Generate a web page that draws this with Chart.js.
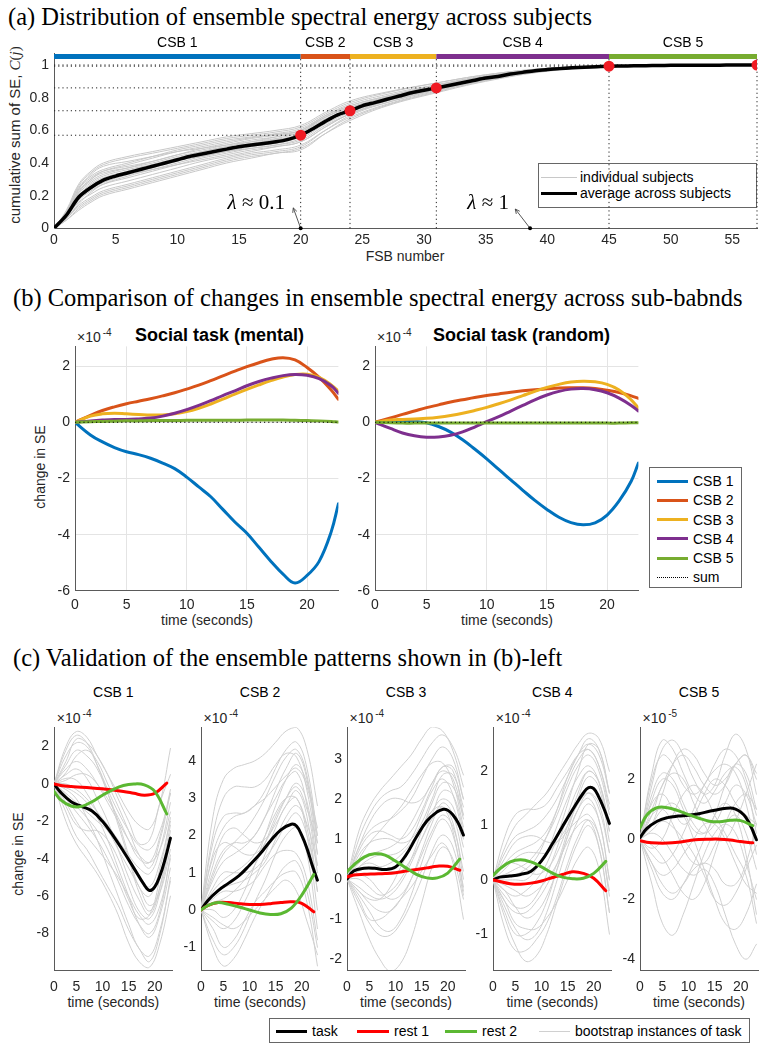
<!DOCTYPE html>
<html><head><meta charset="utf-8">
<script src="https://cdn.jsdelivr.net/npm/chart.js@4.4.1/dist/chart.umd.min.js"></script>
<style>
body{margin:0;width:768px;height:1050px;background:#fff;position:relative;overflow:hidden;font-family:"Liberation Sans",Arial,Helvetica,sans-serif;color:#262626}
canvas{position:absolute}
.t{position:absolute;white-space:nowrap;line-height:1}
.c{transform:translate(-50%,-50%)}
.r{transform:translate(-50%,-50%) rotate(-90deg)}
.serif{font-family:"Liberation Serif","Times New Roman",serif;color:#000}
.sup{font-size:10px;position:relative;top:-6px;margin-left:2px}
.lg{position:absolute;border:1px solid #666;background:#fff}
.ln{position:absolute;height:0}
</style></head><body>

<div class="t serif" style="left:8px;top:5px;font-size:24.5px">(a) Distribution of ensemble spectral energy across subjects</div>
<div class="t serif" style="left:13px;top:286px;font-size:24.5px">(b) Comparison of changes in ensemble spectral energy across sub-babnds</div>
<div class="t serif" style="left:13px;top:646px;font-size:24.5px">(c) Validation of the ensemble patterns shown in (b)-left</div>

<!-- panel a labels -->
<div class="t r" style="left:15px;top:135px;font-size:15px">cumulative sum of SE, <span class="serif" style="font-style:italic;color:#262626">C</span><span class="serif" style="color:#262626">(<i>j</i>)</span></div>
<div class="t c" style="left:405px;top:256px;font-size:14px">FSB number</div>
<div class="lg" style="left:538px;top:163px;width:217px;height:43px"></div>
<div class="ln" style="left:541px;top:176.5px;width:36px;border-top:1px solid #c8c8c8"></div>
<div class="t" style="left:580px;top:170px;font-size:14px;color:#000">individual subjects</div>
<div class="ln" style="left:541px;top:191.5px;width:36px;border-top:3.5px solid #000"></div>
<div class="t" style="left:580px;top:186px;font-size:14px;color:#000">average across subjects</div>

<!-- panel b labels -->
<div class="t r" style="left:40px;top:467px;font-size:14px">change in SE</div>
<div class="t" style="left:77px;top:330px;font-size:14px">×10<span class="sup">-4</span></div>
<div class="t" style="left:377px;top:330px;font-size:14px">×10<span class="sup">-4</span></div>
<div class="t" style="left:135px;top:326px;font-size:18px;font-weight:bold;color:#000">Social task (mental)</div>
<div class="t" style="left:433px;top:326px;font-size:18px;font-weight:bold;color:#000">Social task (random)</div>
<div class="t c" style="left:207px;top:620px;font-size:14px">time (seconds)</div>
<div class="t c" style="left:507px;top:620px;font-size:14px">time (seconds)</div>
<div class="lg" style="left:649px;top:467px;width:91px;height:119px"></div>
<div class="ln" style="left:657px;top:479.5px;width:31px;border-top:3px solid #0072BD"></div>
<div class="t" style="left:693px;top:474px;font-size:14px;color:#000">CSB 1</div>
<div class="ln" style="left:657px;top:498.5px;width:31px;border-top:3px solid #D95319"></div>
<div class="t" style="left:693px;top:493px;font-size:14px;color:#000">CSB 2</div>
<div class="ln" style="left:657px;top:518px;width:31px;border-top:3px solid #EDB120"></div>
<div class="t" style="left:693px;top:512.5px;font-size:14px;color:#000">CSB 3</div>
<div class="ln" style="left:657px;top:537px;width:31px;border-top:3px solid #7E2F8E"></div>
<div class="t" style="left:693px;top:531.5px;font-size:14px;color:#000">CSB 4</div>
<div class="ln" style="left:657px;top:556.5px;width:31px;border-top:3px solid #77AC30"></div>
<div class="t" style="left:693px;top:551px;font-size:14px;color:#000">CSB 5</div>
<div class="ln" style="left:657px;top:576.5px;width:31px;border-top:1.5px dotted #000"></div>
<div class="t" style="left:693px;top:570px;font-size:14px;color:#000">sum</div>

<!-- panel c labels -->
<div class="t r" style="left:18px;top:854px;font-size:14px">change in SE</div>
<div id="clab"></div>
<div class="lg" style="left:269px;top:1018px;width:479px;height:23px"></div>
<div class="ln" style="left:276px;top:1029.5px;width:31px;border-top:3px solid #000"></div>
<div class="t" style="left:312px;top:1024px;font-size:14px;color:#000">task</div>
<div class="ln" style="left:357px;top:1029.5px;width:32px;border-top:3px solid #ff0000"></div>
<div class="t" style="left:394px;top:1024px;font-size:14px;color:#000">rest 1</div>
<div class="ln" style="left:445px;top:1029.5px;width:32px;border-top:3px solid #5bb832"></div>
<div class="t" style="left:482px;top:1024px;font-size:14px;color:#000">rest 2</div>
<div class="ln" style="left:539px;top:1030.5px;width:31px;border-top:1px solid #d0d0d0"></div>
<div class="t" style="left:575px;top:1024px;font-size:14px;color:#000">bootstrap instances of task</div>

<script>
// ================= DATA =================
// Panel (a)
const FSB = [0,1,2,3,4,5,6,7,8,9,10,11,12,13,14,15,16,17,18,19,20,21,22,23,24,25,26,27,28,29,30,31,32,33,34,35,36,37,38,39,40,41,42,43,44,45,46,47,48,49,50,51,52,53,54,55,56,57];
const MEAN_A = [0,0.08,0.19,0.25,0.295,0.32,0.34,0.36,0.38,0.40,0.42,0.44,0.455,0.47,0.485,0.50,0.51,0.52,0.53,0.545,0.57,0.61,0.655,0.695,0.72,0.75,0.77,0.79,0.81,0.83,0.845,0.86,0.875,0.89,0.905,0.92,0.93,0.945,0.955,0.965,0.972,0.978,0.983,0.987,0.99,0.993,0.994,0.995,0.996,0.997,0.998,0.998,0.999,0.999,0.999,1,1,1];
const TA = [0,1,2,3,4,6,8,10,12,14,16,18,20,22,24,27,31,35,40,45,50,57];
const SUBJ_A = [
 [0,0.10,0.26,0.34,0.39,0.43,0.46,0.49,0.52,0.55,0.57,0.59,0.62,0.70,0.77,0.83,0.89,0.94,0.98,0.995,0.999,1],
 [0,0.09,0.23,0.30,0.35,0.39,0.43,0.47,0.50,0.53,0.555,0.575,0.60,0.68,0.75,0.81,0.875,0.93,0.975,0.993,0.998,1],
 [0,0.08,0.20,0.27,0.31,0.35,0.39,0.43,0.46,0.49,0.52,0.54,0.58,0.66,0.73,0.80,0.865,0.925,0.973,0.992,0.998,1],
 [0,0.07,0.17,0.23,0.27,0.31,0.35,0.39,0.43,0.46,0.49,0.51,0.55,0.64,0.71,0.785,0.855,0.915,0.97,0.99,0.997,1],
 [0,0.06,0.14,0.19,0.23,0.27,0.31,0.35,0.39,0.43,0.46,0.48,0.51,0.60,0.68,0.76,0.84,0.905,0.965,0.989,0.997,1],
 [0,0.05,0.12,0.17,0.21,0.25,0.29,0.33,0.37,0.41,0.44,0.46,0.49,0.58,0.66,0.75,0.83,0.90,0.962,0.987,0.996,1],
 [0,0.09,0.24,0.33,0.38,0.41,0.44,0.47,0.49,0.51,0.53,0.55,0.59,0.68,0.74,0.80,0.865,0.925,0.975,0.993,0.998,1],
 [0,0.07,0.18,0.25,0.30,0.35,0.39,0.43,0.47,0.50,0.53,0.56,0.60,0.68,0.74,0.805,0.87,0.93,0.976,0.993,0.998,1],
 [0,0.08,0.21,0.28,0.32,0.36,0.39,0.42,0.44,0.47,0.49,0.51,0.54,0.63,0.70,0.78,0.85,0.915,0.97,0.99,0.997,1],
 [0,0.06,0.15,0.22,0.27,0.32,0.36,0.40,0.44,0.47,0.50,0.52,0.56,0.65,0.72,0.79,0.86,0.92,0.972,0.991,0.997,1],
 [0,0.10,0.25,0.32,0.36,0.40,0.44,0.48,0.51,0.54,0.56,0.58,0.61,0.69,0.76,0.82,0.88,0.935,0.978,0.994,0.999,1],
 [0,0.07,0.16,0.21,0.25,0.29,0.33,0.37,0.41,0.44,0.47,0.50,0.53,0.62,0.70,0.77,0.845,0.91,0.966,0.989,0.997,1],
 [0,0.08,0.22,0.30,0.34,0.37,0.40,0.44,0.47,0.50,0.52,0.545,0.57,0.66,0.72,0.79,0.86,0.92,0.972,0.992,0.998,1],
 [0,0.06,0.13,0.18,0.22,0.26,0.30,0.34,0.38,0.42,0.45,0.47,0.50,0.60,0.69,0.77,0.85,0.91,0.968,0.99,0.997,1],
 [0,0.11,0.27,0.35,0.40,0.44,0.47,0.50,0.53,0.56,0.58,0.60,0.63,0.71,0.78,0.835,0.89,0.94,0.98,0.995,0.999,1],
 [0,0.05,0.11,0.16,0.20,0.24,0.28,0.32,0.36,0.40,0.43,0.46,0.48,0.58,0.67,0.755,0.835,0.905,0.964,0.988,0.996,1],
 [0,0.09,0.22,0.29,0.33,0.37,0.41,0.45,0.48,0.51,0.54,0.56,0.59,0.67,0.73,0.80,0.87,0.93,0.975,0.993,0.998,1],
 [0,0.07,0.19,0.26,0.30,0.33,0.36,0.39,0.42,0.45,0.48,0.50,0.53,0.62,0.70,0.78,0.85,0.915,0.97,0.99,0.997,1],
 [0,0.08,0.18,0.24,0.28,0.33,0.37,0.41,0.45,0.48,0.51,0.53,0.56,0.65,0.72,0.79,0.86,0.92,0.972,0.991,0.997,1],
 [0,0.10,0.24,0.31,0.35,0.38,0.41,0.45,0.49,0.52,0.55,0.57,0.60,0.69,0.75,0.81,0.875,0.93,0.976,0.993,0.998,1]
];
const BANDS = [0,20,24,31,45,57];
const CSB_NAMES = ['CSB 1','CSB 2','CSB 3','CSB 4','CSB 5'];
const EDGE_X = [20,24,31,45,57];
const EDGE_C = [0.57,0.72,0.86,0.993,1.0];
const TICKS_AX = [0,5,10,15,20,25,30,35,40,45,50,55];
const TICKS_AY = [0,0.2,0.4,0.6,0.8,1];
const LAMBDA_LABELS = ['0.1','1'];
const LAMBDA_POS = [[16.4,0.152],[35.2,0.152]];
const ARROWS = [[19.4,0.125,20,0],[37.4,0.118,38.6,0]];

// Panel (b)
const TB = [0.72,2,3,4,5,6,7,8,9,10,11,12,13,14,15,16,17,18,19,20,21,22,22.6];
const MENTAL_CSB1 = [0,-0.45,-0.7,-0.9,-1.05,-1.15,-1.28,-1.45,-1.65,-1.95,-2.3,-2.65,-3.1,-3.55,-3.95,-4.45,-4.95,-5.4,-5.72,-5.45,-4.95,-3.9,-2.9];
const MENTAL_CSB2 = [0,0.25,0.42,0.55,0.66,0.75,0.84,0.94,1.05,1.18,1.32,1.48,1.65,1.82,1.98,2.12,2.24,2.3,2.22,1.95,1.6,1.15,0.82];
const MENTAL_CSB3 = [0,0.22,0.3,0.32,0.3,0.28,0.26,0.26,0.3,0.38,0.5,0.65,0.82,1.0,1.17,1.33,1.48,1.61,1.7,1.71,1.6,1.33,1.1];
const MENTAL_CSB4 = [0,0.05,0.08,0.1,0.1,0.12,0.15,0.22,0.32,0.45,0.6,0.77,0.95,1.12,1.3,1.45,1.57,1.66,1.7,1.67,1.55,1.3,1.03];
const MENTAL_CSB5 = [0,0.02,0.03,0.04,0.05,0.05,0.06,0.06,0.06,0.07,0.07,0.07,0.07,0.07,0.08,0.08,0.08,0.08,0.07,0.06,0.05,0.03,0.01];
const MENTAL_SUM  = [0,0,0,0,0,0,0,0,0,0,0,0,0,0,0,0,0,0,0,0,0,0,0];
const RANDOM_CSB1 = [0,0.02,0.03,0.02,-0.02,-0.15,-0.35,-0.62,-0.95,-1.3,-1.68,-2.05,-2.42,-2.78,-3.1,-3.38,-3.57,-3.65,-3.58,-3.3,-2.8,-2.1,-1.45];
const RANDOM_CSB2 = [0,0.15,0.28,0.4,0.52,0.62,0.72,0.8,0.88,0.95,1.01,1.07,1.12,1.16,1.19,1.22,1.23,1.23,1.2,1.14,1.06,0.94,0.85];
const RANDOM_CSB3 = [0,0.08,0.1,0.12,0.14,0.18,0.24,0.32,0.42,0.53,0.66,0.8,0.95,1.1,1.24,1.35,1.43,1.46,1.44,1.35,1.15,0.8,0.5];
const RANDOM_CSB4 = [0,-0.22,-0.38,-0.48,-0.53,-0.52,-0.46,-0.34,-0.17,0.02,0.2,0.4,0.6,0.8,0.97,1.1,1.18,1.2,1.16,1.05,0.86,0.6,0.4];
const RANDOM_CSB5 = [0,-0.02,-0.03,-0.03,-0.03,-0.03,-0.03,-0.03,-0.03,-0.03,-0.03,-0.03,-0.03,-0.03,-0.03,-0.03,-0.03,-0.03,-0.03,-0.03,-0.03,-0.02,-0.02];
const RANDOM_SUM  = [0,0,0,0,0,0,0,0,0,0,0,0,0,0,0,0,0,0,0,0,0,0,0];
const TICKS_BX = [0.72,5,10,15,20];
const TICKS_BY = [-6,-4,-2,0,2];

// Panel (c)
const TC  = [0.72,3,5,7,9,11,13,15,17,19,21,23];
const TCM = [0.72,2,4,6,8,10,12,14,16,18,19,20,21,22,23];
const TCR = [0.72,2,4,6,8,10,12,14,16,18,20,22.3];
const TASK_C1 = [0,-0.45,-0.95,-1.2,-1.45,-2.0,-2.75,-3.6,-4.5,-5.4,-5.7,-5.5,-4.9,-4.0,-2.9];
const REST1_C1 = [0,-0.08,-0.14,-0.17,-0.21,-0.26,-0.32,-0.4,-0.5,-0.6,-0.5,0.05];
const REST2_C1 = [-0.4,-0.85,-1.18,-1.2,-0.95,-0.6,-0.3,-0.08,0.0,-0.05,-0.4,-1.6];
const BOOT_C1 = [
 [0,2.0,2.8,2.5,1.5,0.5,-0.5,-1.5,-2.2,-2.4,-1.0,1.9],
 [0,1.5,2.2,2.0,1.0,-0.3,-1.5,-2.5,-3.3,-3.5,-2.5,-0.5],
 [0,0.8,1.2,0.8,0.0,-1.0,-2.0,-3.0,-3.8,-4.2,-3.5,-1.5],
 [0,0.3,0.2,-0.5,-1.5,-2.5,-3.2,-4.0,-5.0,-5.5,-4.2,-2.0],
 [0,-0.5,-1.0,-1.5,-2.0,-2.5,-3.5,-4.5,-5.5,-6.5,-5.8,-3.5],
 [0,-1.0,-2.0,-2.8,-3.5,-4.2,-5.0,-6.0,-7.0,-7.5,-6.5,-4.0],
 [0,-1.5,-2.8,-3.5,-4.5,-5.5,-6.5,-7.8,-8.8,-9.5,-8.0,-5.0],
 [0,0.5,0.8,0.3,-0.8,-2.0,-3.5,-5.0,-6.2,-7.0,-5.5,-2.5],
 [0,1.0,1.8,1.5,0.8,-0.5,-2.0,-3.8,-5.5,-6.0,-4.5,-1.8],
 [0,-0.2,-0.5,-1.0,-1.8,-3.0,-4.5,-6.0,-7.5,-8.2,-7.0,-4.5],
 [0,-2.0,-3.2,-4.0,-4.8,-5.8,-7.0,-8.5,-9.5,-9.8,-8.5,-6.0],
 [0,1.2,2.4,2.2,1.5,0.5,-0.8,-2.0,-3.2,-3.0,-1.0,0.5],
 [0,0.0,-0.3,-0.8,-1.5,-2.2,-3.0,-3.8,-4.5,-4.8,-3.5,-1.0],
 [0,-0.8,-1.5,-2.2,-3.0,-4.0,-5.2,-6.5,-7.5,-8.0,-6.8,-3.8],
 [0,0.6,1.5,1.8,1.2,0.0,-1.2,-2.5,-3.8,-4.5,-3.0,-0.5],
 [0,-0.3,-0.8,-1.8,-3.0,-4.5,-6.0,-7.5,-8.8,-9.2,-7.8,-5.2],
 [0,1.8,2.6,2.2,1.0,-0.5,-2.2,-4.0,-5.8,-6.8,-5.5,-2.8],
 [0,-1.2,-2.2,-2.5,-2.5,-3.0,-4.0,-5.5,-6.8,-7.2,-5.8,-3.0],
 [0,0.2,0.5,0.5,0.0,-0.8,-1.8,-3.0,-4.0,-4.2,-2.8,-0.3],
 [0,-0.6,-1.2,-1.8,-2.5,-3.5,-4.8,-6.2,-7.2,-7.0,-5.0,-2.2]
];
const TASK_C2 = [0,0.25,0.52,0.72,0.92,1.2,1.5,1.85,2.15,2.3,2.25,2.0,1.65,1.2,0.8];
const REST1_C2 = [0,0.12,0.2,0.2,0.17,0.15,0.15,0.17,0.2,0.22,0.18,-0.05];
const REST2_C2 = [0,0.12,0.2,0.15,0.08,0.0,-0.08,-0.12,-0.1,0.05,0.4,0.95];
const BOOT_C2 = [
 [0,2.5,3.5,3.8,3.9,4.0,4.2,4.5,4.8,4.9,4.3,2.8],
 [0,1.8,2.5,2.6,2.6,2.8,3.2,3.8,4.3,4.5,3.8,2.0],
 [0,1.0,1.6,1.8,1.8,2.0,2.5,3.0,3.5,3.7,2.8,1.0],
 [0,0.5,0.8,1.0,1.2,1.5,2.0,2.6,3.0,3.0,2.2,0.5],
 [0,-0.3,-0.5,-0.3,0.2,0.8,1.5,2.2,2.8,3.0,2.0,0.0],
 [0,-0.8,-1.2,-1.0,-0.5,0.2,0.8,1.5,2.0,2.2,1.5,-0.5],
 [0,0.3,0.5,0.5,0.6,0.8,1.2,1.5,1.6,1.5,0.8,-0.8],
 [0,1.2,2.0,2.2,2.0,1.8,1.9,2.3,2.8,3.2,2.5,0.5],
 [0,-0.5,-1.0,-0.8,-0.3,0.2,0.5,0.8,1.0,1.0,0.2,-1.5],
 [0,0.8,1.3,1.5,1.7,2.0,2.5,3.2,3.8,4.2,3.5,1.5],
 [0,0.2,0.3,0.5,0.8,1.2,1.8,2.5,3.0,3.3,2.7,1.8],
 [0,-0.2,-0.4,-0.5,-0.3,0.0,0.3,0.6,0.8,0.5,-0.3,-1.2],
 [0,1.5,2.2,2.5,2.6,2.8,3.0,3.3,3.6,3.8,3.3,2.0],
 [0,0.6,1.0,1.0,1.0,1.1,1.4,1.8,2.3,2.6,2.0,0.8],
 [0,2.0,3.0,3.3,3.3,3.3,3.5,3.9,4.2,4.1,3.2,1.5],
 [0,0.0,-0.2,0.0,0.5,1.2,2.0,2.8,3.5,3.9,3.4,2.2],
 [0,-1.0,-1.5,-1.3,-0.8,-0.2,0.3,0.8,1.2,1.3,0.5,-1.0],
 [0,0.9,1.5,1.8,2.1,2.5,3.0,3.6,4.1,4.3,3.6,1.8],
 [0,0.4,0.6,0.7,0.8,1.0,1.3,1.9,2.5,2.8,2.3,1.2],
 [0,1.4,1.8,1.7,1.5,1.5,1.8,2.4,3.0,3.4,2.9,1.2]
];
const TASK_C3 = [0,0.2,0.27,0.27,0.24,0.3,0.6,1.05,1.45,1.68,1.74,1.72,1.6,1.4,1.1];
const REST1_C3 = [0.05,0.1,0.12,0.13,0.14,0.16,0.2,0.24,0.28,0.32,0.32,0.22];
const REST2_C3 = [0.18,0.35,0.55,0.63,0.6,0.45,0.28,0.12,0.03,0.03,0.15,0.5];
const BOOT_C3 = [
 [0,1.2,1.8,2.2,2.5,2.8,3.1,3.5,3.8,3.7,3.2,2.3],
 [0,0.8,1.2,1.4,1.5,1.7,2.0,2.5,3.0,3.3,3.0,2.0],
 [0,0.4,0.6,0.7,0.8,1.0,1.4,1.9,2.4,2.7,2.5,1.5],
 [0,-0.3,-0.6,-0.8,-0.8,-0.5,0.0,0.7,1.4,1.9,1.6,0.5],
 [0,-0.8,-1.5,-2.0,-2.3,-2.1,-1.5,-0.6,0.3,0.8,0.5,-0.5],
 [0,0.2,0.3,0.3,0.4,0.6,0.9,1.3,1.7,2.0,1.8,0.8],
 [0,-0.4,-0.8,-1.2,-1.3,-1.0,-0.4,0.4,1.1,1.5,1.1,-0.2],
 [0,0.6,0.9,1.0,1.0,0.9,1.0,1.4,2.0,2.6,2.6,1.8],
 [0,0.1,0.0,-0.3,-0.5,-0.4,0.0,0.6,1.2,1.6,1.3,0.2],
 [0,0.5,0.9,1.2,1.5,1.8,2.2,2.6,2.9,2.9,2.4,1.3],
 [0,-0.2,-0.4,-0.5,-0.4,-0.1,0.4,1.0,1.6,2.2,2.1,1.2],
 [0,0.3,0.4,0.3,0.2,0.2,0.5,1.0,1.5,1.8,1.4,0.0],
 [0,-0.5,-1.0,-1.0,-0.8,-0.5,-0.2,0.2,0.6,0.9,0.4,-1.0],
 [0,0.8,1.4,1.8,2.0,2.0,1.9,2.0,2.4,2.8,2.8,2.0],
 [0,1.0,1.6,2.0,2.2,2.3,2.6,3.0,3.4,3.6,3.3,2.6],
 [0,-0.6,-1.1,-1.4,-1.4,-1.1,-0.6,0.0,0.7,1.1,0.8,-0.4],
 [0,0.3,0.5,0.6,0.6,0.7,1.0,1.6,2.2,2.5,2.1,1.0],
 [0,0.0,-0.2,-0.4,-0.3,0.0,0.5,1.2,1.9,2.4,2.3,1.6],
 [0,0.7,1.1,1.2,1.1,1.0,1.2,1.7,2.3,2.8,2.7,1.6],
 [0,-0.3,-0.5,-0.5,-0.2,0.3,0.8,1.3,1.7,1.8,1.2,-0.3]
];
const TASK_C4 = [0,0.05,0.07,0.1,0.16,0.35,0.65,0.98,1.3,1.6,1.7,1.68,1.52,1.3,1.04];
const REST1_C4 = [0,-0.03,-0.07,-0.08,-0.06,-0.02,0.04,0.1,0.15,0.12,0.03,-0.2];
const REST2_C4 = [0.08,0.2,0.33,0.37,0.33,0.24,0.13,0.05,0.02,0.03,0.12,0.34];
const BOOT_C4 = [
 [0,0.6,1.0,1.2,1.4,1.6,1.9,2.2,2.5,2.7,2.6,2.0],
 [0,0.3,0.5,0.6,0.7,0.9,1.3,1.8,2.2,2.4,2.1,1.3],
 [0,0.0,0.0,0.0,0.2,0.5,1.0,1.5,1.9,2.1,1.8,0.9],
 [0,-0.3,-0.5,-0.5,-0.3,0.1,0.6,1.2,1.7,2.0,1.8,1.0],
 [0,-0.6,-1.0,-1.0,-0.8,-0.4,0.2,0.8,1.3,1.6,1.4,0.5],
 [0,-0.9,-1.3,-1.3,-1.1,-0.8,-0.3,0.3,0.8,1.1,0.8,-0.3],
 [0,0.2,0.4,0.5,0.5,0.5,0.7,1.0,1.4,1.6,1.3,0.5],
 [0,-0.2,-0.3,-0.2,0.0,0.3,0.8,1.4,2.0,2.5,2.4,1.6],
 [0,0.4,0.7,0.8,0.8,0.7,0.7,0.9,1.1,1.2,0.8,-0.2],
 [0,-0.4,-0.8,-0.9,-0.9,-0.7,-0.4,0.0,0.4,0.6,0.2,-1.0],
 [0,0.1,0.2,0.3,0.5,0.8,1.2,1.7,2.1,2.3,2.0,1.2],
 [0,-0.1,-0.2,-0.3,-0.2,0.0,0.3,0.7,1.0,1.1,0.6,-0.6],
 [0,0.5,0.8,0.9,1.0,1.2,1.5,1.9,2.3,2.6,2.4,1.6],
 [0,-0.5,-0.9,-1.1,-1.0,-0.6,0.0,0.6,1.1,1.4,1.1,0.0],
 [0,0.8,1.2,1.3,1.3,1.4,1.7,2.0,2.3,2.4,2.1,1.4],
 [0,-0.7,-1.2,-1.5,-1.4,-1.0,-0.4,0.2,0.7,1.0,0.6,-0.6],
 [0,0.1,0.1,0.2,0.4,0.8,1.3,1.9,2.3,2.5,2.3,1.6],
 [0,-0.2,-0.5,-0.7,-0.6,-0.3,0.2,0.8,1.3,1.5,1.1,0.0],
 [0,0.3,0.3,0.2,0.1,0.2,0.5,1.0,1.6,2.0,1.8,0.9],
 [0,-0.4,-0.6,-0.6,-0.4,-0.1,0.3,0.9,1.5,1.9,1.7,0.7]
];
const TASK_C5 = [0.05,0.35,0.6,0.72,0.77,0.8,0.85,0.93,1.0,1.04,1.0,0.9,0.72,0.4,-0.02];
const REST1_C5 = [-0.05,-0.1,-0.13,-0.13,-0.1,-0.05,-0.01,0.0,0.0,-0.03,-0.08,-0.12];
const REST2_C5 = [0.37,0.8,1.05,1.05,0.95,0.82,0.7,0.6,0.58,0.63,0.62,0.45];
const BOOT_C5 = [
 [0,1.8,3.0,3.3,2.8,2.0,1.5,1.8,2.8,3.5,3.0,1.5],
 [0,1.0,1.8,2.5,2.8,2.4,1.8,1.5,1.8,2.5,2.8,2.0],
 [0,-1.5,-2.8,-3.2,-2.5,-1.5,-0.5,0.2,0.5,0.2,-0.8,-2.0],
 [0,0.5,1.0,1.2,0.8,0.0,-1.0,-2.0,-2.8,-3.0,-2.5,-1.5],
 [0,1.5,2.2,2.0,1.2,0.5,0.2,0.5,1.2,1.8,1.5,0.5],
 [0,-0.5,-0.8,-0.5,0.2,1.0,1.8,2.3,2.5,2.2,1.2,-0.5],
 [0,0.8,1.0,0.5,-0.3,-0.8,-0.8,-0.2,0.5,0.8,0.2,-1.0],
 [0,-1.0,-1.8,-2.0,-1.5,-0.8,0.0,0.8,1.2,0.8,-0.5,-2.5],
 [0,2.0,2.8,2.5,1.8,1.5,1.8,2.5,3.0,2.8,2.0,0.8],
 [0,0.2,0.0,-0.5,-1.0,-1.2,-1.0,-1.5,-2.5,-3.5,-4.0,-3.5],
 [0,1.2,1.5,1.0,0.5,0.8,1.5,2.0,1.8,1.2,0.8,0.5],
 [0,-0.3,0.0,0.8,1.5,1.8,1.5,0.8,0.2,-0.5,-1.2,-2.8],
 [0,0.5,1.5,2.5,3.0,2.8,2.2,1.8,2.0,2.5,2.8,2.2],
 [0,-0.8,-1.2,-1.0,-0.5,0.0,0.5,0.5,0.0,-0.8,-1.5,-1.8],
 [0,1.3,2.0,1.8,1.0,0.3,0.2,0.8,1.8,2.5,2.2,1.0],
 [0,-0.8,-1.5,-1.8,-1.5,-1.0,-0.8,-1.0,-1.5,-1.5,-0.8,0.5],
 [0,0.8,1.8,2.2,2.0,1.2,0.5,0.0,0.0,0.6,1.5,2.5],
 [0,-0.2,-0.6,-1.2,-1.8,-2.0,-1.5,-0.5,0.5,1.2,1.5,1.0],
 [0,2.2,3.3,3.0,2.2,1.5,1.2,1.6,2.2,2.4,1.8,0.2],
 [0,0.3,0.6,0.4,0.0,-0.5,-1.2,-2.0,-2.2,-1.8,-1.0,-0.2]
];
const C_TITLES = ['CSB 1','CSB 2','CSB 3','CSB 4','CSB 5'];
const C_EXP = ['-4','-4','-4','-4','-5'];
const C_YMIN = [-9.95,-1.61,-2.27,-1.66,-4.36];
const C_YMAX = [3.03,4.9,3.79,2.81,3.73];
const C_YTICKS = [[-8,-6,-4,-2,0,2],[-1,0,1,2,3,4],[-2,-1,0,1,2,3],[-1,0,1,2],[-4,-2,0,2]];
const TICKS_CX = [0.72,5,10,15,20];

// ================= DRAWING =================
const FONT = '"Liberation Sans", Arial, Helvetica, sans-serif';
const pts = (xs, ys) => ys.map((v,i)=>({x:xs[i], y:v}));

function mk(o){
  const c=document.createElement('canvas');
  c.width=o.w; c.height=o.h; c.style.left=o.left+'px'; c.style.top=o.top+'px';
  document.body.appendChild(c);
  const tf={family:FONT,size:14};
  const ax = (min,max,ticks,pad,fit,cb)=>({type:'linear',min,max,afterFit:fit,
      afterBuildTicks:s=>{s.ticks=ticks.map(v=>({value:v}));},
      ticks:{autoSkip:false,maxRotation:0,minRotation:0,padding:pad,color:'#262626',font:tf,callback:cb},
      grid:{display:!!o.grid,color:'#e4e4e4',lineWidth:1,drawTicks:false},
      border:{display:true,color:'#5a5a5a',width:1}});
  return new Chart(c,{type:'line',
    data:{datasets:o.datasets.map((d,i)=>Object.assign({order:-i,pointRadius:0,fill:false,tension:0.4,borderCapStyle:'round'},d))},
    options:{responsive:false,animation:false,devicePixelRatio:1,events:[],
      layout:{padding:{top:o.padTop,right:o.padRight,left:0,bottom:0}},
      plugins:{legend:{display:false},tooltip:{enabled:false}},
      scales:{
        x:ax(o.xmin,o.xmax,o.xticks,o.xpad,s=>{s.height=o.hx;},o.xcb||(v=>String(v))),
        y:ax(o.ymin,o.ymax,o.yticks,o.ypad,s=>{s.width=o.wy;},v=>String(v))
      }},
    plugins:o.plugins||[]});
}

// ---- Panel (a)
const PAL = ['#0072BD','#D95319','#EDB120','#7E2F8E','#77AC30'];
const annotA = {id:'annotA', afterDatasetsDraw(ch){
  const {ctx,scales:{x,y},chartArea:ca}=ch;
  ctx.save();
  ctx.fillStyle='#000'; ctx.font='14px '+FONT; ctx.textAlign='center'; ctx.textBaseline='middle';
  for(let i=0;i<CSB_NAMES.length;i++) ctx.fillText(CSB_NAMES[i], x.getPixelForValue((BANDS[i]+BANDS[i+1])/2), ca.top-10.6);
  for(let i=0;i<LAMBDA_LABELS.length;i++){
    const px=x.getPixelForValue(LAMBDA_POS[i][0]), py=y.getPixelForValue(LAMBDA_POS[i][1]);
    ctx.font='italic 21px "Liberation Serif", serif'; const w1=ctx.measureText('λ').width;
    const rest=' ≈ '+LAMBDA_LABELS[i];
    ctx.font='21px "Liberation Serif", serif'; const w2=ctx.measureText(rest).width;
    const x0=px-(w1+w2)/2; ctx.textAlign='left'; ctx.fillStyle='#000';
    ctx.font='italic 21px "Liberation Serif", serif'; ctx.fillText('λ',x0,py);
    ctx.font='21px "Liberation Serif", serif'; ctx.fillText(rest,x0+w1,py);
    const a=ARROWS[i];
    const p0=[x.getPixelForValue(a[0]),y.getPixelForValue(a[1])], p1=[x.getPixelForValue(a[2]),y.getPixelForValue(a[3])];
    ctx.strokeStyle='#444'; ctx.lineWidth=0.9;
    ctx.beginPath(); ctx.moveTo(p1[0],p1[1]); ctx.lineTo(p0[0],p0[1]); ctx.stroke();
    const ang=Math.atan2(p0[1]-p1[1],p0[0]-p1[0]), L=5;
    ctx.beginPath();
    ctx.moveTo(p0[0],p0[1]); ctx.lineTo(p0[0]-L*Math.cos(ang-0.45),p0[1]-L*Math.sin(ang-0.45));
    ctx.moveTo(p0[0],p0[1]); ctx.lineTo(p0[0]-L*Math.cos(ang+0.45),p0[1]-L*Math.sin(ang+0.45));
    ctx.stroke();
    ctx.beginPath(); ctx.arc(p1[0],p1[1],2,0,Math.PI*2); ctx.fill();
  }
  ctx.restore();
}};
const dsA = [];
SUBJ_A.forEach(s=>dsA.push({data:pts(TA,s),borderColor:'#c8c8c8',borderWidth:1}));
for(let i=0;i<5;i++) dsA.push({data:[{x:BANDS[i],y:1.052},{x:BANDS[i+1],y:1.052}],borderColor:PAL[i],borderWidth:5,tension:0,borderCapStyle:'butt',clip:false});
EDGE_X.forEach((xv,i)=>{
  dsA.push({data:[{x:0,y:EDGE_C[i]},{x:xv,y:EDGE_C[i]}],borderColor:'#222',borderWidth:1,borderDash:[1.2,3],tension:0,borderCapStyle:'butt'});
  dsA.push({data:[{x:xv,y:0},{x:xv,y:1.04}],borderColor:'#222',borderWidth:1,borderDash:[1.2,3],tension:0,borderCapStyle:'butt',clip:false});
});
dsA.push({data:pts(FSB,MEAN_A),borderColor:'#000',borderWidth:3.5,tension:0.3});
dsA.push({data:pts(EDGE_X,EDGE_C),showLine:false,pointRadius:5.5,pointBackgroundColor:'#f01b24',pointBorderWidth:0});
mk({left:0,top:20,w:768,h:250,wy:54,padRight:11,padTop:33.6,hx:41.7,xpad:3,ypad:5,
  xmin:0,xmax:57,ymin:0,ymax:1.07,xticks:TICKS_AX,yticks:TICKS_AY,datasets:dsA,plugins:[annotA]});

// ---- Panel (b)
function dsB(series){
  const out = series.slice(0,5).map((s,i)=>({data:pts(TB,s),borderColor:PAL[i],borderWidth:3}));
  out.push({data:pts(TB,series[5]),borderColor:'#000',borderWidth:1,borderDash:[1.2,3],tension:0,borderCapStyle:'butt'});
  return out;
}
const xcb0 = (v)=> (v<1 ? '0' : String(v));
[[0,[MENTAL_CSB1,MENTAL_CSB2,MENTAL_CSB3,MENTAL_CSB4,MENTAL_CSB5,MENTAL_SUM]],
 [300,[RANDOM_CSB1,RANDOM_CSB2,RANDOM_CSB3,RANDOM_CSB4,RANDOM_CSB5,RANDOM_SUM]]].forEach(([lx,ser])=>{
  mk({left:lx,top:320,w:345,h:296,wy:75,padRight:6.6,padTop:26.4,hx:25.1,xpad:6,ypad:5,grid:true,
    xmin:0.72,xmax:22.6,ymin:-6,ymax:2.7,xticks:TICKS_BX,yticks:TICKS_BY,xcb:xcb0,datasets:dsB(ser)});
});

// ---- Panel (c)
const C_AXL = [54.3,201,347,493.3,640];
const C_DATA = [[BOOT_C1,TASK_C1,REST1_C1,REST2_C1],[BOOT_C2,TASK_C2,REST1_C2,REST2_C2],[BOOT_C3,TASK_C3,REST1_C3,REST2_C3],[BOOT_C4,TASK_C4,REST1_C4,REST2_C4],[BOOT_C5,TASK_C5,REST1_C5,REST2_C5]];
const clab = document.getElementById('clab');
C_DATA.forEach((d,k)=>{
  const ds=[];
  d[0].forEach(s=>ds.push({data:pts(TC,s),borderColor:'#d0d0d0',borderWidth:1}));
  ds.push({data:pts(TCM,d[1]),borderColor:'#000',borderWidth:3});
  ds.push({data:pts(TCR,d[2]),borderColor:'#ff0000',borderWidth:3});
  ds.push({data:pts(TCR,d[3]),borderColor:'#5bb832',borderWidth:3});
  const L=C_AXL[k];
  mk({left:L-50,top:700,w:172,h:292,wy:50,padRight:4,padTop:27.3,hx:22,xpad:9,ypad:5,
    xmin:0.72,xmax:23.3,ymin:C_YMIN[k],ymax:C_YMAX[k],xticks:TICKS_CX,yticks:C_YTICKS[k],xcb:xcb0,datasets:ds});
  clab.insertAdjacentHTML('beforeend',
    `<div class="t c" style="left:${L+59}px;top:692px;font-size:14px;color:#000">${C_TITLES[k]}</div>`+
    `<div class="t" style="left:${L+2.5}px;top:711px;font-size:14px">×10<span class="sup">${C_EXP[k]}</span></div>`+
    `<div class="t c" style="left:${L+59}px;top:1002px;font-size:14px">time (seconds)</div>`);
});
</script>
</body></html>
